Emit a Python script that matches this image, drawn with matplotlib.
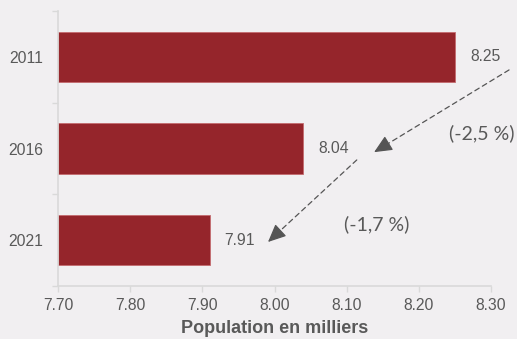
import matplotlib
matplotlib.use("Agg")
import matplotlib.pyplot as plt
from matplotlib.ticker import FixedLocator

years = ["2011", "2016", "2021"]
population = [8.25, 8.04, 7.91]
value_labels = ["8.25", "8.04", "7.91"]
x_ticks = [7.70, 7.80, 7.90, 8.00, 8.10, 8.20, 8.30]
x_tick_labels = ["7.70", "7.80", "7.90", "8.00", "8.10", "8.20", "8.30"]
changes = ["(-2,5 %)", "(-1,7 %)"]

bg = "#F1EFF1"
bar_color = "#95252B"
text_color = "#595959"
axis_color = "#D9D9D9"
font = ["Liberation Sans", "DejaVu Sans"]
font2 = ["Lato", "DejaVu Sans"]

fig = plt.figure(figsize=(5.17, 3.39), dpi=100, facecolor=bg)
ax = fig.add_axes([58/517, 1-286/339, 433/517, 275/339], facecolor=bg)

base = x_ticks[0]
ypos = list(range(len(years)))
ax.barh(ypos, [p - base for p in population], left=base, height=0.55,
        color=bar_color, edgecolor="#C46A6E", linewidth=0.6)

ax.set_xlim(x_ticks[0], x_ticks[-1])
ax.set_ylim(len(years) - 0.5, -0.5)
ax.set_xticks(x_ticks)
ax.set_xticklabels(x_tick_labels, fontfamily=font, fontsize=11.3, color=text_color)
ax.set_yticks(ypos)
ax.set_yticklabels(years, fontfamily=font, fontsize=11.3, color=text_color)
ax.yaxis.set_minor_locator(FixedLocator([-0.5, 0.5, 1.5, 2.5]))
ax.tick_params(axis="y", which="major", length=0, pad=10.5)
ax.tick_params(axis="y", which="minor", length=4, color=axis_color, width=1)
ax.tick_params(axis="x", length=4, color=axis_color, width=1, pad=5)

for s in ["top", "right"]:
    ax.spines[s].set_visible(False)
for s in ["left", "bottom"]:
    ax.spines[s].set_color(axis_color)
    ax.spines[s].set_linewidth(1.2)

ax.set_xlabel("Population en milliers", fontfamily=font, fontsize=13,
              fontweight="bold", color=text_color, labelpad=5)

for y, v, lab in zip(ypos, population, value_labels):
    ax.text(v + 0.021, y, lab, va="center", ha="left", fontfamily=font,
            fontsize=11.3, color=text_color)

arrows = [((8.325, 0.143), (8.138, 1.04)), ((8.114, 1.125), (7.991, 2.02))]
line_kw = dict(arrowstyle="-", color="#555555", linestyle=(0, (4, 3)),
               linewidth=0.9, shrinkA=0, shrinkB=6)
head_kw = dict(arrowstyle="-|>,head_length=1.1,head_width=0.5", color="#555555",
               linewidth=0.9, shrinkA=0, shrinkB=0)
for start, tip in arrows:
    ax.annotate("", xy=tip, xytext=start, arrowprops=line_kw, annotation_clip=False)
    near = (tip[0] + 0.08 * (start[0] - tip[0]), tip[1] + 0.08 * (start[1] - tip[1]))
    ax.annotate("", xy=tip, xytext=near, arrowprops=head_kw, annotation_clip=False)

ax.text(8.2875, 0.83, changes[0], ha="center", va="center", fontfamily=font2,
        fontsize=14, color=text_color, clip_on=False)
ax.text(8.142, 1.83, changes[1], ha="center", va="center", fontfamily=font2,
        fontsize=14, color=text_color, clip_on=False)

fig.savefig("out.png", dpi=100, facecolor=bg)
